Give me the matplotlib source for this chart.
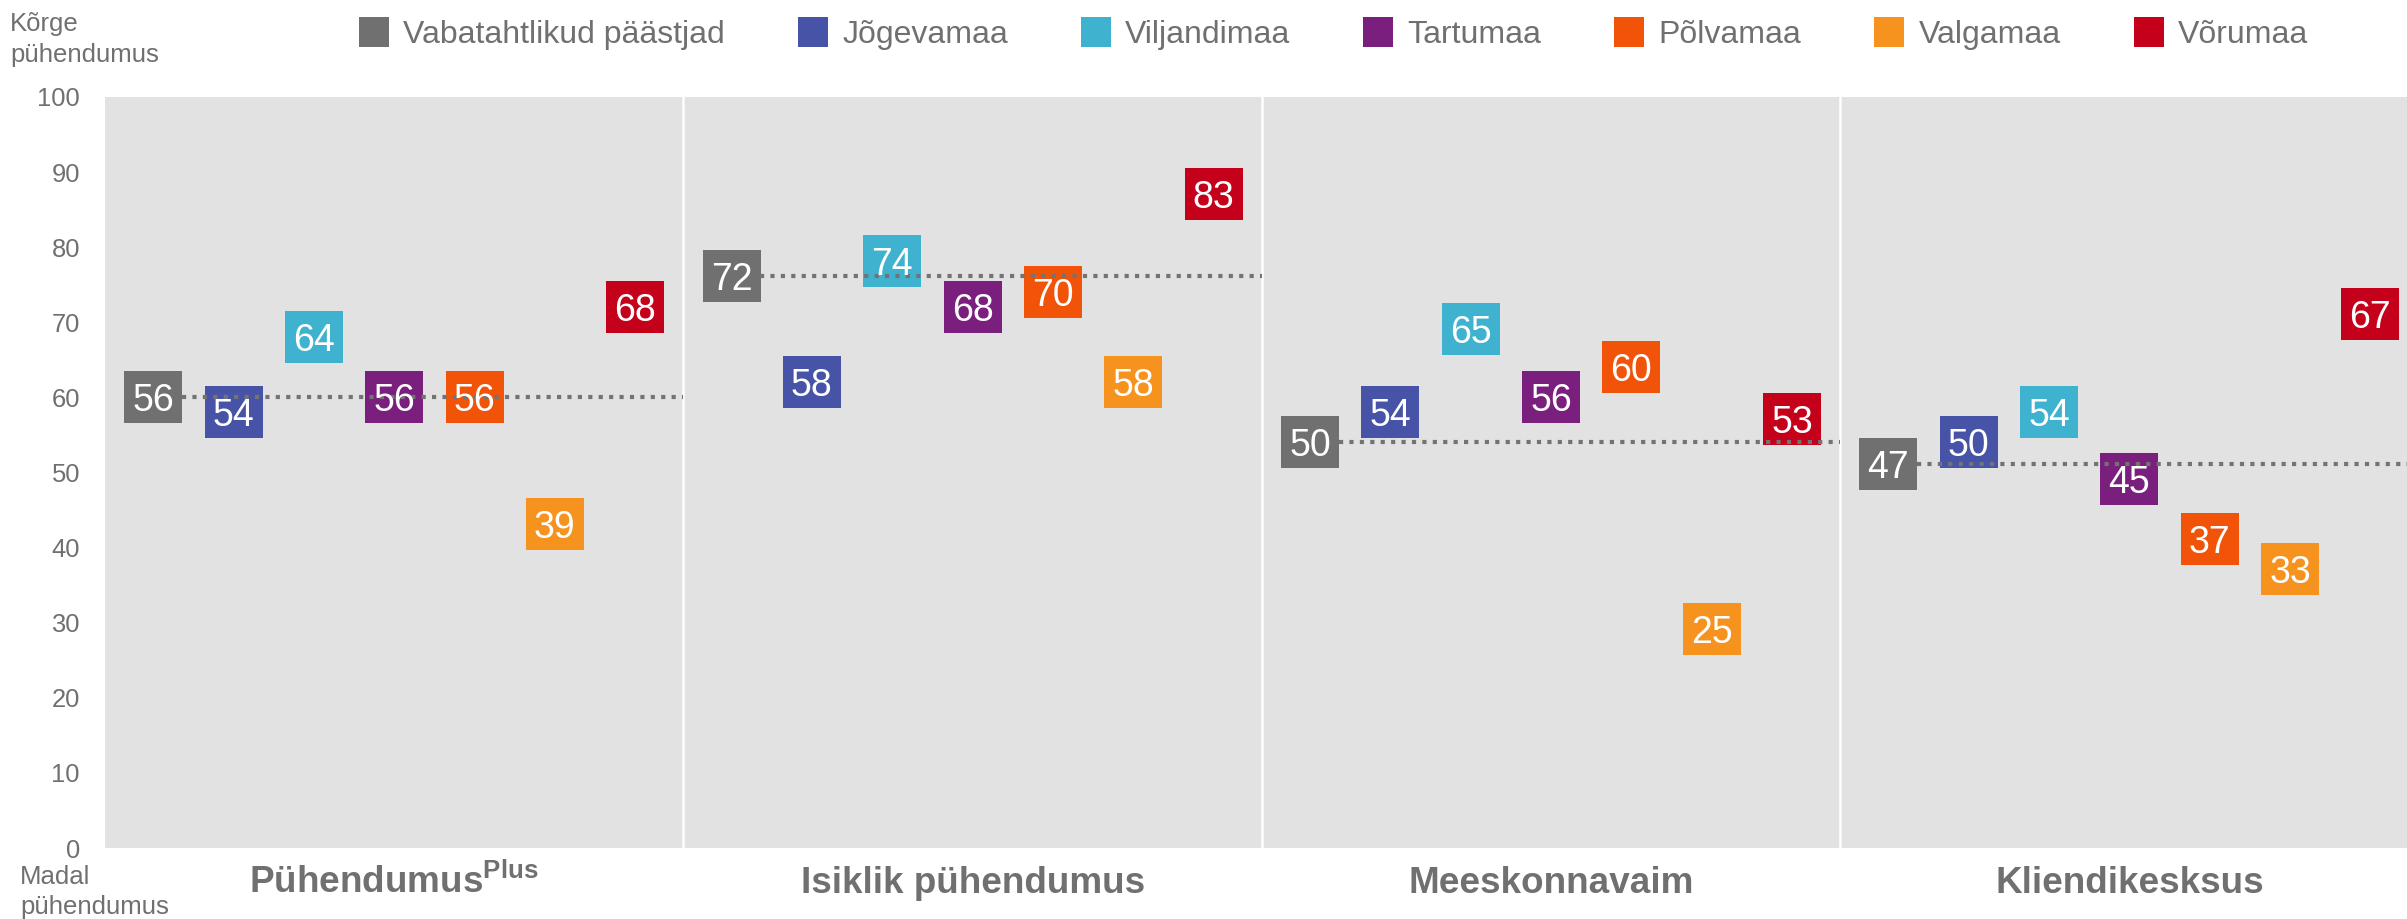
import numpy as np
import matplotlib.pyplot as plt

plt.rcParams['font.family'] = ['Liberation Sans', 'DejaVu Sans']
plt.rcParams['mathtext.fontset'] = 'custom'
plt.rcParams['mathtext.rm'] = 'Liberation Sans'
plt.rcParams['mathtext.bf'] = 'Liberation Sans:bold'

categories = [r'$\mathbf{Pühendumus}^{\mathbf{Plus}}$', 'Isiklik pühendumus',
              'Meeskonnavaim', 'Kliendikesksus']
series_names = ['Vabatahtlikud päästjad', 'Jõgevamaa', 'Viljandimaa', 'Tartumaa',
                'Põlvamaa', 'Valgamaa', 'Võrumaa']
vabatahtlikud = [56, 72, 50, 47]
jogevamaa = [54, 58, 54, 50]
viljandimaa = [64, 74, 65, 54]
tartumaa = [56, 68, 56, 45]
polvamaa = [56, 70, 60, 37]
valgamaa = [39, 58, 25, 33]
vorumaa = [68, 83, 53, 67]
yticks = [0, 10, 20, 30, 40, 50, 60, 70, 80, 90, 100]

colors = ['#707070', '#4653A6', '#3FB2CF', '#7A1F7E', '#F15408', '#F6921E', '#C5001A']
text_grey = '#707070'


def main():
    series = [vabatahtlikud, jogevamaa, viljandimaa, tartumaa, polvamaa, valgamaa, vorumaa]
    groups = np.arange(len(categories))
    step = 0.1389      # spacing of the 7 labels inside a group
    lift = 4.1         # label boxes sit just above their value
    box = [(-1, -0.9), (1, -0.9), (1, 0.9), (-1, 0.9), (-1, -0.9)]

    fig = plt.figure(figsize=(24.07, 9.19), dpi=100)
    ax = fig.add_axes([105 / 2407, 1 - 848 / 919, 1 - 105 / 2407, (848 - 97) / 919])
    ax.set_facecolor('#E2E2E2')

    for i, (name, vals, c) in enumerate(zip(series_names, series, colors)):
        x = groups + (i - 3) * step
        y = np.array(vals) + lift
        ax.plot(x, y, linestyle='none', marker=box, ms=41.6, mew=0, color=c, zorder=3)
        ax.plot([], [], linestyle='none', marker='s', ms=21.5, mew=0, color=c, label=name)
        for xi, yi, v in zip(x, y, vals):
            ax.text(xi, yi, str(v), color='white', fontsize=27, ha='center',
                    va='center_baseline', zorder=5)

    # dotted reference line at the volunteer value
    for g, v in zip(groups, vabatahtlikud):
        ax.plot([g - 3 * step + 0.05, g + 0.5], [v + lift, v + lift],
                linestyle=(0, (1, 1.5)), dash_capstyle='butt',
                color='#737373', lw=3, zorder=4)

    for b in groups[:-1] + 0.5:
        ax.axvline(b, color='white', lw=1.8, zorder=1)

    ax.set_xlim(-0.5, 3.48)
    ax.set_ylim(0, 100)
    ax.set_yticks(yticks)
    ax.set_xticks([])
    ax.tick_params(axis='y', length=0, pad=18, labelsize=18.4, labelcolor=text_grey)
    for s in ax.spines.values():
        s.set_visible(False)

    for g, cat in zip(groups, categories):
        ax.text(g, -6, cat, ha='center', va='baseline', fontsize=26.6,
                fontweight='bold', color=text_grey)

    fig.text(10 / 2407, 1 - 24 / 919, 'Kõrge', fontsize=18.5, color=text_grey, va='center')
    fig.text(10 / 2407, 1 - 55 / 919, 'pühendumus', fontsize=18.5, color=text_grey, va='center')
    fig.text(20 / 2407, 1 - 877 / 919, 'Madal', fontsize=18.5, color=text_grey, va='center')
    fig.text(20 / 2407, 1 - 907 / 919, 'pühendumus', fontsize=18.5, color=text_grey, va='center')

    fig.legend(loc='center', bbox_to_anchor=(1333 / 2407, 1 - 35 / 919), ncol=7,
               frameon=False, fontsize=23, handlelength=1.0, handletextpad=0.42,
               columnspacing=2.25, borderpad=0, labelcolor=text_grey)

    fig.savefig('out.png', dpi=100)


if __name__ == '__main__':
    main()
